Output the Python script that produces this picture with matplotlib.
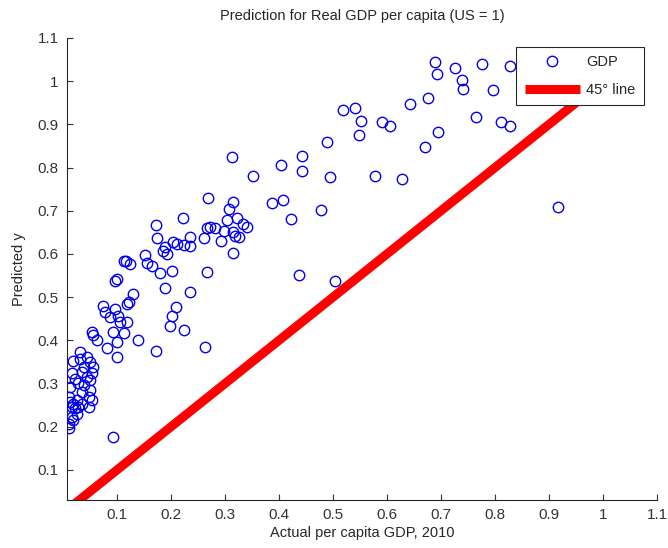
import numpy as np
import matplotlib
matplotlib.use("Agg")
import matplotlib.pyplot as plt

plt.rcParams['font.family'] = ['Liberation Sans', 'DejaVu Sans']

# actual per capita GDP (US = 1) and predicted value
actual = [
    0.688, 0.693, 0.725, 0.738, 0.741, 0.776, 0.796, 0.828, 0.675, 0.643,
    0.590, 0.606, 0.695, 0.670, 0.627, 0.765, 0.811, 0.828, 0.916,
    0.519, 0.541, 0.552, 0.548, 0.489, 0.312, 0.404, 0.442, 0.442, 0.494,
    0.577, 0.352, 0.269, 0.314, 0.308, 0.386, 0.407, 0.478, 0.422, 0.303,
    0.322, 0.333, 0.340, 0.266, 0.272, 0.281, 0.297, 0.261, 0.315, 0.318,
    0.326, 0.292, 0.314, 0.266, 0.437, 0.504,
    0.172, 0.222, 0.174, 0.152, 0.155, 0.164, 0.180, 0.185, 0.189, 0.192,
    0.203, 0.211, 0.223, 0.235, 0.235, 0.201, 0.189, 0.235, 0.209, 0.201,
    0.198, 0.224, 0.263,
    0.112, 0.117, 0.124, 0.096, 0.099, 0.130, 0.073, 0.078, 0.087, 0.096,
    0.102, 0.106, 0.119, 0.121, 0.119, 0.112, 0.093, 0.138, 0.099, 0.053,
    0.056, 0.062, 0.082, 0.099, 0.172, 0.093,
    0.031, 0.019, 0.031, 0.044, 0.050, 0.056, 0.053, 0.038, 0.035, 0.016,
    0.022, 0.044, 0.050, 0.028, 0.038, 0.013, 0.010, 0.013, 0.019, 0.025,
    0.035, 0.028, 0.022, 0.016, 0.047, 0.053, 0.047, 0.025, 0.016, 0.019,
    0.010, 0.010, 0.050, 0.035,
]
predicted = [
    1.045, 1.016, 1.031, 1.002, 0.982, 1.040, 0.980, 1.035, 0.961, 0.946,
    0.905, 0.895, 0.883, 0.848, 0.774, 0.918, 0.906, 0.895, 0.709,
    0.934, 0.937, 0.908, 0.875, 0.858, 0.824, 0.805, 0.827, 0.792, 0.777,
    0.780, 0.780, 0.729, 0.721, 0.704, 0.717, 0.724, 0.702, 0.680, 0.678,
    0.683, 0.669, 0.663, 0.661, 0.663, 0.661, 0.654, 0.637, 0.651, 0.642,
    0.640, 0.629, 0.601, 0.557, 0.550, 0.538,
    0.667, 0.683, 0.637, 0.597, 0.580, 0.571, 0.556, 0.607, 0.615, 0.600,
    0.627, 0.623, 0.621, 0.640, 0.619, 0.561, 0.521, 0.511, 0.478, 0.457,
    0.434, 0.423, 0.384,
    0.583, 0.584, 0.577, 0.538, 0.542, 0.507, 0.480, 0.465, 0.453, 0.473,
    0.457, 0.442, 0.483, 0.488, 0.442, 0.416, 0.419, 0.400, 0.396, 0.419,
    0.411, 0.400, 0.383, 0.361, 0.375, 0.176,
    0.373, 0.353, 0.357, 0.361, 0.349, 0.338, 0.323, 0.338, 0.326, 0.323,
    0.311, 0.315, 0.307, 0.300, 0.296, 0.292, 0.269, 0.257, 0.253, 0.261,
    0.253, 0.245, 0.242, 0.245, 0.269, 0.261, 0.245, 0.230, 0.222, 0.215,
    0.207, 0.196, 0.284, 0.280,
]
line_x = [0.007, 1.0]

xticks = [0.1, 0.2, 0.3, 0.4, 0.5, 0.6, 0.7, 0.8, 0.9, 1.0, 1.1]
tick_labels = ['0.1', '0.2', '0.3', '0.4', '0.5', '0.6', '0.7', '0.8', '0.9', '1', '1.1']

fig = plt.figure(figsize=(6.68, 5.48), dpi=100)
ax = fig.add_axes([0.1003, 0.0876, 0.8832, 0.8431])

ax.plot(actual, predicted, 'o', mfc='none', mec='#0000ee', ms=7.5, mew=1.0,
        label='GDP', zorder=3)
ax.plot(line_x, line_x, '-', color='#ff0000', lw=6.5, label='45\u00b0 line',
        solid_capstyle='butt', zorder=2)

ax.set_xlim(0.007, 1.1)
ax.set_ylim(0.03, 1.1)
ax.set_xticks(xticks)
ax.set_xticklabels(tick_labels)
ax.set_yticks(xticks)
ax.set_yticklabels(tick_labels)
ax.tick_params(direction='in', length=4, width=0.8, labelsize=11,
               colors='#333333', pad=6)
ax.spines['top'].set_visible(False)
ax.spines['right'].set_visible(False)
for s in ['left', 'bottom']:
    ax.spines[s].set_color('#262626')
    ax.spines[s].set_linewidth(0.8)

ax.set_title('Prediction for Real GDP per capita (US = 1)', fontsize=10.5,
             color='#262626', pad=13)
ax.set_xlabel('Actual per capita GDP, 2010', fontsize=10.5, color='#262626',
              labelpad=3)
ax.set_ylabel('Predicted y', fontsize=10.5, color='#262626', labelpad=8)

leg = ax.legend(loc='upper right', bbox_to_anchor=(0.985, 0.99), fontsize=10.5,
                fancybox=False, framealpha=1, edgecolor='#262626',
                handlelength=3.8, borderpad=0.55, labelspacing=0.95,
                handletextpad=0.45, borderaxespad=0.3)
leg.get_frame().set_linewidth(0.8)
for t in leg.get_texts():
    t.set_color('#262626')

fig.savefig('out.png', dpi=100)
